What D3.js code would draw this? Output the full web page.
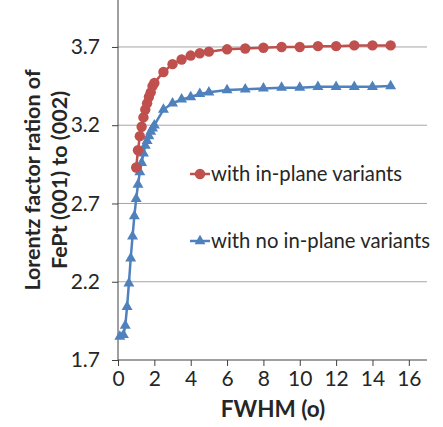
<!DOCTYPE html>
<html><head><meta charset="utf-8">
<script src="https://cdn.jsdelivr.net/npm/d3@7"></script>
<style>body{margin:0;background:#fff;} svg{display:block;}</style>
</head><body>
<svg id="c" width="443" height="427"></svg>
<script>
const redX = [1.0,1.1,1.2,1.3,1.4,1.5,1.6,1.7,1.8,1.9,2.0,2.5,3.0,3.5,4.0,4.5,5,6,7,8,9,10,11,12,13,14,15];
const redY = [2.93,3.04,3.13,3.19,3.25,3.30,3.34,3.38,3.41,3.45,3.47,3.54,3.59,3.62,3.645,3.66,3.67,3.685,3.69,3.695,3.70,3.70,3.705,3.705,3.71,3.71,3.71];
const blueX = [0.1,0.3,0.4,0.5,0.6,0.7,0.8,0.9,1.0,1.1,1.2,1.3,1.4,1.5,1.6,1.7,1.8,1.9,2.0,2.5,3.0,3.5,4.0,4.5,5,6,7,8,9,10,11,12,13,14,15];
const blueY = [1.85,1.86,1.92,2.04,2.19,2.35,2.49,2.62,2.73,2.82,2.90,2.96,3.02,3.07,3.10,3.13,3.16,3.18,3.20,3.30,3.34,3.365,3.38,3.40,3.41,3.425,3.43,3.435,3.44,3.44,3.445,3.445,3.445,3.445,3.45];
const xTicks = [0,2,4,6,8,10,12,14,16];
const yTicks = [1.7,2.2,2.7,3.2,3.7];
const seriesNames = ["with in-plane variants","with no in-plane variants"];
const colors = ["#c0504d","#4f81bd"];

const svg = d3.select("#c");
const font = "Lato, 'Open Sans', sans-serif";
const x = d3.scaleLinear().domain([0,17]).range([118,427]);
const y = d3.scaleLinear().domain([1.7,4.0]).range([360,0]);

svg.append("g").selectAll("line").data(yTicks.filter(d=>d>1.7)).join("line")
  .attr("x1",118).attr("x2",427).attr("y1",d=>y(d)).attr("y2",d=>y(d))
  .attr("stroke","#a6a6a6").attr("stroke-width",1);

const xa = svg.append("g").attr("transform","translate(0,360)")
  .call(d3.axisBottom(x).tickValues(xTicks).tickSize(6).tickPadding(5).tickFormat(d3.format("d")));
xa.select(".domain").attr("stroke","#404040").attr("d","M118,0H427");
xa.selectAll(".tick line").attr("stroke","#404040");
xa.selectAll("text").attr("font-family",font).attr("font-size",21).attr("fill","#262626");

const ya = svg.append("g").attr("transform","translate(118,0)")
  .call(d3.axisLeft(y).tickValues(yTicks).tickSize(6).tickPadding(12).tickFormat(d3.format(".1f")));
ya.select(".domain").attr("stroke","#404040").attr("d","M0,0V360");
ya.selectAll(".tick line").attr("stroke","#404040");
ya.selectAll("text").attr("font-family",font).attr("font-size",21).attr("fill","#262626");

const line = d3.line().x(d=>x(d[0])).y(d=>y(d[1]));
const red = redX.map((v,i)=>[v,redY[i]]);
const blue = blueX.map((v,i)=>[v,blueY[i]]);

svg.append("path").datum(blue).attr("d",line).attr("fill","none").attr("stroke",colors[1]).attr("stroke-width",2.5);
const tri = d3.symbol().type(d3.symbolTriangle).size(52);
svg.append("g").selectAll("path").data(blue).join("path")
  .attr("d",tri).attr("transform",d=>`translate(${x(d[0])},${y(d[1])})`).attr("fill",colors[1]);

svg.append("path").datum(red).attr("d",line).attr("fill","none").attr("stroke",colors[0]).attr("stroke-width",2.5);
svg.append("g").selectAll("circle").data(red).join("circle")
  .attr("cx",d=>x(d[0])).attr("cy",d=>y(d[1])).attr("r",5.2).attr("fill",colors[0]);

const lg = [{y:174,c:colors[0],t:seriesNames[0],m:"c"},{y:241,c:colors[1],t:seriesNames[1],m:"t"}];
lg.forEach(l=>{
  svg.append("line").attr("x1",190).attr("x2",210).attr("y1",l.y).attr("y2",l.y).attr("stroke",l.c).attr("stroke-width",2.5);
  if(l.m==="c") svg.append("circle").attr("cx",200).attr("cy",l.y).attr("r",5.2).attr("fill",l.c);
  else svg.append("path").attr("d",tri).attr("transform",`translate(200,${l.y})`).attr("fill",l.c);
  svg.append("text").attr("x",211).attr("y",l.y).attr("dy","0.35em").attr("font-family",font).attr("font-size",20.3).attr("fill","#262626").text(l.t);
});

svg.append("text").attr("x",273).attr("y",417).attr("text-anchor","middle").attr("font-family",font).attr("font-weight","bold").attr("font-size",22.5).attr("fill","#262626").text("FWHM (o)");
const yt = svg.append("text").attr("transform","translate(0,180) rotate(-90)").attr("text-anchor","middle").attr("font-family",font).attr("font-weight","bold").attr("font-size",21.5).attr("fill","#262626");
yt.append("tspan").attr("x",0).attr("y",40).text("Lorentz factor ration of");
yt.append("tspan").attr("x",0).attr("y",67).text("FePt (001) to (002)");
</script>
</body></html>
